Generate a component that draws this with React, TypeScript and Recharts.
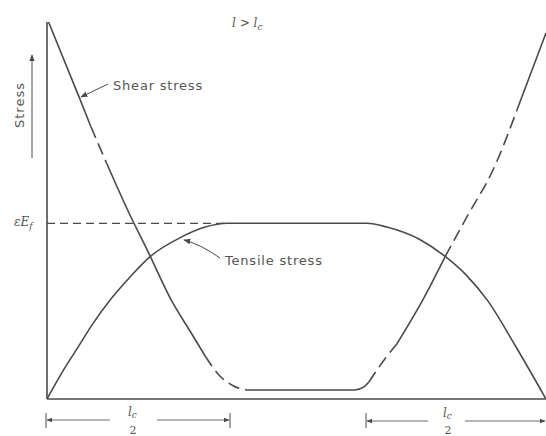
import React from "react";
import { ComposedChart, Line, XAxis, YAxis, ReferenceLine } from "recharts";

// Positions along the fibre (0 = left end, 100 = right end), stress in arbitrary units (0-100)
const shearSolidTop = [
  { x: 0.3, y: 100 },
  { x: 6.4, y: 80.2 },
  { x: 8.8, y: 72.2 },
];
const shearDashedUpperLeft = [
  { x: 8.8, y: 72.2 },
  { x: 12.0, y: 62.4 },
];
const shearSolidLeft = [
  { x: 12.0, y: 62.4 },
  { x: 16.2, y: 50.0 },
  { x: 20.6, y: 38.1 },
  { x: 24.8, y: 26.5 },
  { x: 28.9, y: 17.5 },
  { x: 31.7, y: 11.4 },
];
const shearDashedLowerLeft = [
  { x: 31.7, y: 11.4 },
  { x: 34.5, y: 6.3 },
  { x: 37.3, y: 3.5 },
  { x: 40.1, y: 2.4 },
];
const shearSolidBottom = [
  { x: 40.1, y: 2.4 },
  { x: 61.7, y: 2.4 },
  { x: 63.5, y: 3.2 },
  { x: 64.5, y: 4.5 },
];
const shearDashedLowerRight = [
  { x: 64.5, y: 4.5 },
  { x: 67.7, y: 10.6 },
  { x: 70.1, y: 14.6 },
];
const shearSolidRight = [
  { x: 70.1, y: 14.6 },
  { x: 75.4, y: 26.5 },
  { x: 79.8, y: 37.8 },
];
const shearDashedUpperRight = [
  { x: 79.8, y: 37.8 },
  { x: 84.4, y: 48.9 },
  { x: 89.4, y: 60.8 },
  { x: 94.2, y: 76.7 },
];
const shearSolidTopRight = [
  { x: 94.2, y: 76.7 },
  { x: 100, y: 97.1 },
];

const tensile = [
  { x: 0, y: 0 },
  { x: 3.0, y: 7.0 },
  { x: 6.0, y: 13.3 },
  { x: 9.0, y: 19.6 },
  { x: 12.8, y: 26.5 },
  { x: 16.6, y: 32.3 },
  { x: 20.6, y: 37.7 },
  { x: 26.7, y: 42.8 },
  { x: 31.7, y: 45.6 },
  { x: 36.1, y: 46.6 },
  { x: 64.1, y: 46.6 },
  { x: 68.1, y: 45.6 },
  { x: 74.7, y: 42.3 },
  { x: 79.8, y: 37.8 },
  { x: 84.2, y: 32.6 },
  { x: 88.2, y: 26.3 },
  { x: 94.0, y: 13.8 },
  { x: 100, y: 0 },
];

const EPS_EF = 46.6;
const PLATEAU_START = 36.1;

const INK = "#4a4a4a";
const TEXT = "#555";
const FONT = "'DejaVu Sans', sans-serif";

const solidSegments = [shearSolidTop, shearSolidLeft, shearSolidBottom, shearSolidRight, shearSolidTopRight];
const dashedSegments = [shearDashedUpperLeft, shearDashedLowerLeft, shearDashedLowerRight, shearDashedUpperRight];

function Annotations() {
  return (
    <svg
      width={546}
      height={436}
      style={{ position: "absolute", left: 0, top: 0, pointerEvents: "none" }}
    >
      <defs>
        <marker id="ah" viewBox="0 0 10 10" refX="9" refY="5" markerWidth="7" markerHeight="7" orient="auto-start-reverse">
          <path d="M0,1 L10,5 L0,9 z" fill={INK} />
        </marker>
      </defs>
      {/* l > l_c */}
      <text x={232} y={27} fontFamily="'DejaVu Serif', serif" fontStyle="italic" fontSize={12} fill={TEXT}>
        l {">"} l<tspan fontSize={9} dy={3}>c</tspan>
      </text>
      {/* Stress axis label */}
      <text
        x={24}
        y={105}
        transform="rotate(-90 24 105)"
        textAnchor="middle"
        fontFamily={FONT}
        fontSize={13}
        letterSpacing={1}
        fill={TEXT}
      >
        Stress
      </text>
      <line x1={32} y1={158} x2={32} y2={55} stroke={INK} strokeWidth={1} markerEnd="url(#ah)" />
      {/* Shear stress */}
      <text x={113} y={90} fontFamily={FONT} fontSize={13} letterSpacing={0.8} fill={TEXT}>
        Shear stress
      </text>
      <line x1={108} y1={84} x2={81} y2={97} stroke={INK} strokeWidth={1} markerEnd="url(#ah)" />
      {/* Tensile stress */}
      <text x={225} y={265} fontFamily={FONT} fontSize={13} letterSpacing={0.8} fill={TEXT}>
        Tensile stress
      </text>
      <path d="M220,258 Q200,244 184,240" fill="none" stroke={INK} strokeWidth={1} markerEnd="url(#ah)" />
      {/* eps E_f */}
      <text x={14} y={226} fontFamily="'DejaVu Serif', serif" fontStyle="italic" fontSize={12} fill={TEXT}>
        εE<tspan fontSize={9} dy={3}>f</tspan>
      </text>
      {/* bottom dimension left */}
      <line x1={46} y1={413} x2={46} y2={428} stroke={INK} strokeWidth={1} />
      <line x1={110} y1={420} x2={47} y2={420} stroke={INK} strokeWidth={0.8} markerEnd="url(#ah)" />
      <line x1={157} y1={420} x2={229} y2={420} stroke={INK} strokeWidth={0.8} markerEnd="url(#ah)" />
      <line x1={230} y1={413} x2={230} y2={428} stroke={INK} strokeWidth={1} />
      <text x={128} y={416} fontFamily="'DejaVu Serif', serif" fontStyle="italic" fontSize={12} fill={TEXT}>
        l<tspan fontSize={9} dy={2}>c</tspan>
      </text>
      <text x={133} y={434} textAnchor="middle" fontFamily="'DejaVu Serif', serif" fontSize={11} fill={TEXT}>
        2
      </text>
      {/* bottom dimension right */}
      <line x1={366} y1={413} x2={366} y2={428} stroke={INK} strokeWidth={1} />
      <line x1={428} y1={421} x2={367} y2={421} stroke={INK} strokeWidth={0.8} markerEnd="url(#ah)" />
      <line x1={465} y1={421} x2={545} y2={421} stroke={INK} strokeWidth={0.8} markerEnd="url(#ah)" />
      <text x={443} y={417} fontFamily="'DejaVu Serif', serif" fontStyle="italic" fontSize={12} fill={TEXT}>
        l<tspan fontSize={9} dy={2}>c</tspan>
      </text>
      <text x={448} y={434} textAnchor="middle" fontFamily="'DejaVu Serif', serif" fontSize={11} fill={TEXT}>
        2
      </text>
    </svg>
  );
}

export default function App() {
  return (
    <div style={{ position: "absolute", left: 0, top: 0, width: 546, height: 436, background: "#fff", overflow: "hidden" }}>
      <ComposedChart width={546} height={436} margin={{ top: 22, right: 0, bottom: 37, left: 47 }}>
        <XAxis type="number" dataKey="x" domain={[0, 100]} allowDataOverflow hide />
        <YAxis type="number" dataKey="y" domain={[0, 100]} allowDataOverflow hide />
        <ReferenceLine x={0} stroke={INK} strokeWidth={1.6} />
        <ReferenceLine y={0} stroke={INK} strokeWidth={1.6} />
        <ReferenceLine
          segment={[
            { x: 0, y: EPS_EF },
            { x: PLATEAU_START, y: EPS_EF },
          ]}
          stroke={INK}
          strokeWidth={1.2}
          strokeDasharray="8 5"
        />
        <Line
          data={tensile}
          dataKey="y"
          type="monotone"
          stroke={INK}
          strokeWidth={1.6}
          dot={false}
          isAnimationActive={false}
        />
        {solidSegments.map((seg, i) => (
          <Line
            key={"s" + i}
            data={seg}
            dataKey="y"
            type="monotone"
            stroke={INK}
            strokeWidth={1.6}
            dot={false}
            isAnimationActive={false}
          />
        ))}
        {dashedSegments.map((seg, i) => (
          <Line
            key={"d" + i}
            data={seg}
            dataKey="y"
            type="monotone"
            stroke={INK}
            strokeWidth={1.6}
            strokeDasharray="12 6"
            dot={false}
            isAnimationActive={false}
          />
        ))}
      </ComposedChart>
      <Annotations />
    </div>
  );
}
